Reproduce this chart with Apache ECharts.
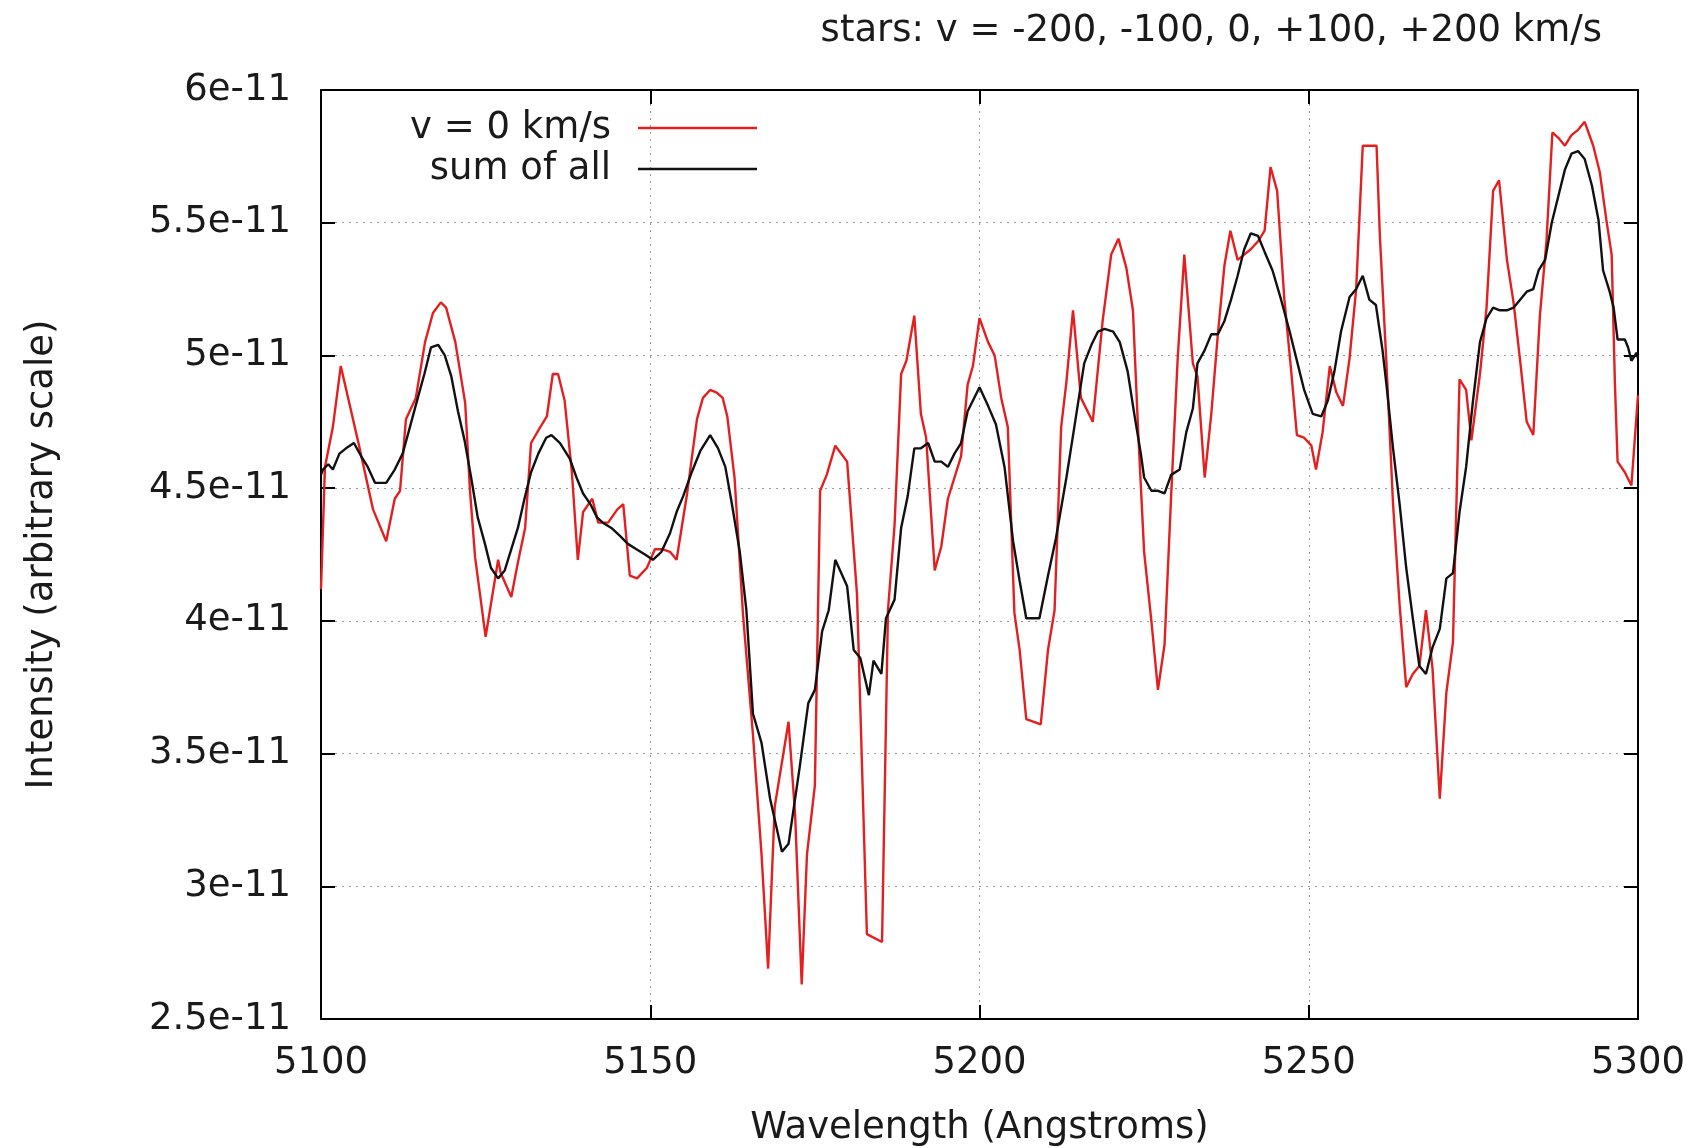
<!DOCTYPE html>
<html>
<head>
<meta charset="utf-8">
<title>Spectrum: v = 0 km/s and sum of all</title>
<script src="https://cdn.jsdelivr.net/npm/echarts@6/dist/echarts.min.js"></script>
<style>
  html, body { margin: 0; padding: 0; background: #ffffff; }
  #chart { width: 1704px; height: 1148px; }
</style>
</head>
<body>
<div id="chart"></div>
<script>
// Intensities are stored in units of 1e-11 (arbitrary scale).
const wavelengthV0 = [
  5100.0, 5100.6, 5101.8, 5103.0, 5105.6, 5107.9, 5109.9, 5111.2, 5112.0, 5112.9,
  5114.4, 5115.8, 5117.0, 5118.2, 5119.0, 5120.4, 5121.9, 5122.6, 5123.4, 5125.0,
  5126.9, 5127.3, 5128.9, 5129.9, 5131.0, 5131.9, 5133.3, 5134.3, 5135.2, 5136.0,
  5137.0, 5138.1, 5139.0, 5139.8, 5141.2, 5142.1, 5143.6, 5145.0, 5145.9, 5146.9,
  5148.0, 5149.5, 5150.7, 5151.8, 5153.0, 5154.0, 5155.6, 5157.1, 5158.0, 5159.1,
  5160.1, 5161.0, 5161.7, 5162.8, 5164.1, 5165.6, 5166.9, 5167.9, 5168.9, 5171.0,
  5172.0, 5173.0, 5173.8, 5175.0, 5175.8, 5176.8, 5178.1, 5179.9, 5181.4, 5182.9,
  5185.2, 5186.1, 5187.1, 5188.1, 5188.9, 5190.1, 5191.1, 5191.9, 5193.2, 5194.2,
  5195.2, 5197.2, 5198.2, 5199.0, 5200.0, 5201.3, 5202.3, 5203.3, 5204.3, 5205.3,
  5206.1, 5207.1, 5209.3, 5210.4, 5211.4, 5212.4, 5213.2, 5214.2, 5215.4, 5217.2,
  5218.7, 5220.0, 5221.1, 5222.3, 5223.3, 5224.1, 5225.0, 5226.1, 5227.1, 5228.1,
  5229.1, 5230.1, 5231.1, 5232.4, 5233.1, 5234.2, 5235.2, 5236.2, 5237.2, 5238.1,
  5239.2, 5240.2, 5241.2, 5242.3, 5243.3, 5244.2, 5245.2, 5246.3, 5247.3, 5248.2,
  5249.3, 5250.4, 5251.1, 5252.1, 5253.2, 5254.2, 5255.2, 5256.2, 5257.2, 5258.2,
  5260.3, 5260.8, 5261.8, 5262.8, 5263.8, 5264.8, 5265.8, 5266.8, 5267.8, 5268.8,
  5269.9, 5270.9, 5271.9, 5272.9, 5273.9, 5274.7, 5276.0, 5277.0, 5278.0, 5278.9,
  5280.1, 5281.1, 5282.1, 5283.1, 5284.1, 5285.1, 5286.1, 5287.0, 5287.9, 5288.9,
  5289.9, 5290.9, 5291.9, 5293.2, 5294.2, 5295.2, 5296.0, 5296.5, 5296.9, 5298.0,
  5299.0, 5300.0
];
const intensityV0 = [
  4.12, 4.58, 4.73, 4.96, 4.68, 4.42, 4.30, 4.46, 4.49, 4.76,
  4.84, 5.05, 5.16, 5.20, 5.18, 5.05, 4.82, 4.50, 4.24, 3.94,
  4.23, 4.18, 4.09, 4.22, 4.35, 4.67, 4.73, 4.77, 4.93, 4.93,
  4.83, 4.56, 4.23, 4.41, 4.46, 4.37, 4.37, 4.42, 4.44, 4.17,
  4.16, 4.20, 4.27, 4.27, 4.26, 4.23, 4.48, 4.76, 4.84, 4.87,
  4.86, 4.84, 4.77, 4.54, 4.02, 3.57, 3.12, 2.69, 3.30, 3.62,
  3.27, 2.63, 3.12, 3.38, 4.49, 4.55, 4.66, 4.60, 4.10, 2.82,
  2.79, 4.04, 4.36, 4.93, 4.98, 5.15, 4.78, 4.69, 4.19, 4.28,
  4.46, 4.62, 4.89, 4.96, 5.14, 5.05, 5.00, 4.84, 4.73, 4.03,
  3.89, 3.63, 3.61, 3.89, 4.04, 4.73, 4.90, 5.17, 4.84, 4.75,
  5.13, 5.38, 5.44, 5.33, 5.17, 4.71, 4.26, 4.00, 3.74, 3.91,
  4.47, 4.99, 5.38, 4.97, 4.92, 4.54, 4.78, 5.08, 5.34, 5.47,
  5.36, 5.38, 5.40, 5.43, 5.47, 5.71, 5.62, 5.21, 4.95, 4.70,
  4.69, 4.66, 4.57, 4.71, 4.96, 4.86, 4.81, 4.99, 5.25, 5.79,
  5.79, 5.45, 4.97, 4.44, 4.06, 3.75, 3.80, 3.83, 4.04, 3.82,
  3.33, 3.73, 3.92, 4.91, 4.87, 4.68, 4.93, 5.18, 5.62, 5.66,
  5.36, 5.20, 4.98, 4.75, 4.70, 5.15, 5.43, 5.84, 5.82, 5.79,
  5.83, 5.85, 5.88, 5.79, 5.69, 5.51, 5.38, 4.89, 4.60, 4.56,
  4.51, 4.85
];

const wavelengthSum = [
  5100.0, 5100.3, 5101.1, 5101.8, 5102.8, 5103.8, 5105.0, 5106.1, 5107.1, 5108.2,
  5109.9, 5111.2, 5112.4, 5113.5, 5114.7, 5115.7, 5116.7, 5117.8, 5118.8, 5119.8,
  5120.8, 5121.8, 5122.8, 5123.8, 5124.9, 5125.8, 5126.9, 5127.9, 5128.9, 5129.9,
  5130.9, 5131.9, 5133.0, 5134.2, 5135.0, 5136.3, 5137.8, 5138.8, 5139.8, 5140.9,
  5141.9, 5142.8, 5144.1, 5145.4, 5146.6, 5147.9, 5149.2, 5150.4, 5151.7, 5153.0,
  5154.0, 5155.0, 5156.3, 5157.6, 5159.1, 5160.3, 5161.4, 5162.4, 5163.6, 5164.6,
  5165.6, 5166.9, 5168.2, 5170.0, 5171.0, 5172.7, 5174.0, 5175.0, 5176.1, 5177.1,
  5178.1, 5179.9, 5180.9, 5181.9, 5183.2, 5183.9, 5185.1, 5185.8, 5187.1, 5188.1,
  5189.1, 5190.1, 5191.1, 5192.2, 5193.2, 5194.2, 5195.2, 5196.2, 5197.2, 5198.2,
  5200.0, 5201.3, 5202.5, 5203.8, 5205.1, 5206.1, 5207.1, 5209.1, 5210.4, 5211.6,
  5213.2, 5214.4, 5215.9, 5217.0, 5218.0, 5219.0, 5220.3, 5221.3, 5222.5, 5223.5,
  5224.5, 5225.0, 5226.1, 5227.1, 5228.1, 5229.1, 5230.4, 5231.4, 5232.4, 5233.1,
  5234.2, 5235.2, 5236.2, 5237.2, 5238.2, 5239.2, 5240.2, 5241.2, 5242.3, 5243.3,
  5244.5, 5245.8, 5247.1, 5248.3, 5249.3, 5250.6, 5251.9, 5252.9, 5253.9, 5254.9,
  5256.2, 5257.2, 5258.2, 5259.2, 5260.2, 5261.2, 5261.8, 5262.8, 5263.8, 5264.8,
  5265.8, 5266.8, 5267.8, 5268.8, 5269.9, 5270.9, 5271.9, 5272.9, 5273.9, 5274.9,
  5276.0, 5277.0, 5278.0, 5279.0, 5280.1, 5281.1, 5282.1, 5283.1, 5284.1, 5284.9,
  5285.9, 5286.9, 5287.9, 5288.9, 5289.9, 5290.9, 5291.9, 5293.0, 5294.0, 5294.7,
  5295.7, 5296.3, 5296.9, 5298.0, 5298.5, 5299.0, 5299.8, 5300.0
];
const intensitySum = [
  4.55, 4.57, 4.59, 4.57, 4.63, 4.65, 4.67, 4.62, 4.58, 4.52,
  4.52, 4.57, 4.63, 4.73, 4.84, 4.93, 5.03, 5.04, 5.00, 4.92,
  4.79, 4.68, 4.54, 4.39, 4.29, 4.20, 4.16, 4.19, 4.27, 4.35,
  4.46, 4.56, 4.63, 4.69, 4.70, 4.67, 4.61, 4.54, 4.48, 4.44,
  4.39, 4.37, 4.35, 4.32, 4.29, 4.27, 4.25, 4.23, 4.26, 4.33,
  4.41, 4.47, 4.56, 4.64, 4.70, 4.65, 4.58, 4.44, 4.26, 4.04,
  3.65, 3.54, 3.33, 3.13, 3.16, 3.45, 3.69, 3.74, 3.96, 4.04,
  4.23, 4.13, 3.89, 3.86, 3.72, 3.85, 3.80, 4.01, 4.08, 4.35,
  4.47, 4.65, 4.65, 4.67, 4.60, 4.60, 4.58, 4.63, 4.67, 4.79,
  4.88, 4.81, 4.74, 4.58, 4.30, 4.15, 4.01, 4.01, 4.17, 4.31,
  4.54, 4.73, 4.97, 5.04, 5.09, 5.10, 5.09, 5.05, 4.94, 4.78,
  4.63, 4.54, 4.49, 4.49, 4.48, 4.55, 4.57, 4.71, 4.80, 4.97,
  5.02, 5.08, 5.08, 5.13, 5.21, 5.30, 5.40, 5.46, 5.45, 5.39,
  5.32, 5.21, 5.09, 4.97, 4.87, 4.78, 4.77, 4.83, 4.94, 5.09,
  5.22, 5.25, 5.30, 5.21, 5.19, 5.02, 4.89, 4.65, 4.44, 4.20,
  4.01, 3.83, 3.80, 3.90, 3.97, 4.16, 4.18, 4.41, 4.58, 4.82,
  5.05, 5.14, 5.18, 5.17, 5.17, 5.18, 5.21, 5.24, 5.25, 5.32,
  5.36, 5.50, 5.60, 5.70, 5.76, 5.77, 5.74, 5.64, 5.51, 5.32,
  5.24, 5.18, 5.06, 5.06, 5.03, 4.98, 5.01, 4.99
];

// Axis ranges and tick spacing
const wavelengthMin = 5100, wavelengthMax = 5300, wavelengthStep = 50;
const intensityMin = 2.5, intensityMax = 6, intensityStep = 0.5;
const intensityExponent = 'e-11';

const titleText = 'stars: v = -200, -100, 0, +100, +200 km/s';
const seriesNames = ['v = 0 km/s', 'sum of all'];
const xAxisTitle = 'Wavelength (Angstroms)';
const yAxisTitle = 'Intensity (arbitrary scale)';

const FONT = 'DejaVu Sans';
const TEXT_COLOR = '#1a1a1a';
const FONT_SIZE = 37;
const RED = '#e3201f';
const BLACK = '#111111';

function zip(xs, ys) {
  return xs.map((x, i) => [x, ys[i]]);
}

const frameAxis = {
  axisLine: { show: true, onZero: false, lineStyle: { color: '#000', width: 2 } },
  axisTick: { show: true, inside: true, length: 14, lineStyle: { color: '#000', width: 2 } }
};
const gridDots = { show: true, lineStyle: { color: '#9a9a9a', width: 1, type: [2, 5] } };
const labelFont = { fontSize: FONT_SIZE, fontFamily: FONT, color: TEXT_COLOR };

const chart = echarts.init(document.getElementById('chart'), null, { renderer: 'canvas' });

const legendBase = {
  right: 947,
  orient: 'vertical',
  align: 'right',
  icon: 'rect',
  itemWidth: 119,
  itemHeight: 2.5,
  selectedMode: false,
  padding: 0,
  textStyle: Object.assign({ padding: [7, 22, 0, 0], lineHeight: 37 }, labelFont)
};

chart.setOption({
  animation: false,
  backgroundColor: '#ffffff',
  title: {
    text: titleText,
    right: 102,
    top: 13,
    padding: 0,
    textStyle: { fontSize: FONT_SIZE, fontFamily: FONT, fontWeight: 'normal', color: TEXT_COLOR, lineHeight: 37 }
  },
  legend: [
    Object.assign({}, legendBase, { top: 106, data: [{ name: seriesNames[0], itemStyle: { color: RED } }] }),
    Object.assign({}, legendBase, { top: 147, data: [{ name: seriesNames[1], itemStyle: { color: BLACK } }] })
  ],
  grid: { left: 321, right: 66, top: 90, bottom: 129, show: false, outerBoundsMode: 'none', containLabel: false },
  xAxis: [
    Object.assign({
      type: 'value',
      position: 'bottom',
      min: wavelengthMin,
      max: wavelengthMax,
      interval: wavelengthStep,
      name: xAxisTitle,
      nameLocation: 'middle',
      nameGap: 91,
      nameTextStyle: labelFont,
      axisLabel: Object.assign({
        margin: 26,
        showMinLabel: true,
        showMaxLabel: true,
        formatter: v => String(v)
      }, labelFont),
      splitLine: gridDots
    }, frameAxis),
    Object.assign({
      type: 'value',
      position: 'top',
      min: wavelengthMin,
      max: wavelengthMax,
      interval: wavelengthStep,
      axisLabel: { show: false },
      splitLine: { show: false }
    }, frameAxis)
  ],
  yAxis: [
    Object.assign({
      type: 'value',
      position: 'left',
      min: intensityMin,
      max: intensityMax,
      interval: intensityStep,
      name: yAxisTitle,
      nameLocation: 'middle',
      nameGap: 260,
      nameRotate: 90,
      nameTextStyle: labelFont,
      axisLabel: Object.assign({
        margin: 30,
        padding: [13, 0, 0, 0],
        showMinLabel: true,
        showMaxLabel: true,
        formatter: v => v + intensityExponent
      }, labelFont),
      splitLine: gridDots
    }, frameAxis),
    Object.assign({
      type: 'value',
      position: 'right',
      min: intensityMin,
      max: intensityMax,
      interval: intensityStep,
      axisLabel: { show: false },
      splitLine: { show: false }
    }, frameAxis)
  ],
  series: [
    {
      name: seriesNames[0],
      type: 'line',
      xAxisIndex: 0,
      yAxisIndex: 0,
      symbol: 'none',
      lineStyle: { color: RED, width: 2.4 },
      itemStyle: { color: RED },
      data: zip(wavelengthV0, intensityV0),
      z: 2
    },
    {
      name: seriesNames[1],
      type: 'line',
      xAxisIndex: 0,
      yAxisIndex: 0,
      symbol: 'none',
      lineStyle: { color: BLACK, width: 2.4 },
      itemStyle: { color: BLACK },
      data: zip(wavelengthSum, intensitySum),
      z: 3
    }
  ]
});
</script>
</body>
</html>
